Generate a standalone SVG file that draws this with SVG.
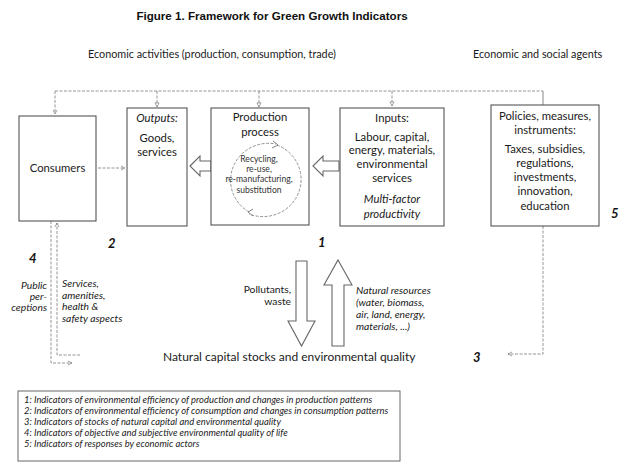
<svg xmlns="http://www.w3.org/2000/svg" width="620" height="464" viewBox="0 0 620 464">
<style>
  text { font-family: Lato, "Open Sans", "Liberation Sans", sans-serif; fill: #1a1a1a; }
  .title { font-family: "Liberation Sans", Arial, sans-serif; font-weight: bold; font-size: 11.6px; fill: #111; }
  .hdr { font-size: 10.8px; }
  .bx { font-size: 11.3px; text-anchor: middle; }
  .it { font-style: italic; }
  .sm { font-size: 10.3px; font-style: italic; }
  .cir { font-size: 8.6px; text-anchor: middle; fill: #333; }
  .num { font-size: 13px; font-weight: bold; font-style: italic; fill: #111; }
  .leg { font-size: 9.4px; font-style: italic; fill: #222; }
  .box { fill: #fff; stroke: #555; stroke-width: 1.1; }
  .blk { fill: #fff; stroke: #666; stroke-width: 1.1; }
  .dl { fill: none; stroke: #888; stroke-width: 0.9; stroke-dasharray: 3 1.5; }
  .sl { fill: none; stroke: #888; stroke-width: 1; }
</style>
<defs>
  <marker id="ah" viewBox="0 0 8 8" refX="7" refY="4" markerWidth="6" markerHeight="6" orient="auto">
    <path d="M1,1 L7,4 L1,7" fill="none" stroke="#777" stroke-width="1"/>
  </marker>
  <marker id="tri" viewBox="0 0 8 8" refX="7" refY="4" markerWidth="6" markerHeight="6" orient="auto">
    <path d="M1,1 L7,4 L1,7 Z" fill="#fff" stroke="#777" stroke-width="1"/>
  </marker>
</defs>

<text class="title" x="272" y="20" text-anchor="middle">Figure 1. Framework for Green Growth Indicators</text>
<text class="hdr" x="88" y="58">Economic activities (production, consumption, trade)</text>
<text class="hdr" x="473" y="58">Economic and social agents</text>

<g id="connectors">
  <path class="dl" d="M55,91 H543"/>
  <path class="sl" d="M543,91 V105"/>
  <path class="dl" d="M55,91 V114" marker-end="url(#ah)"/>
  <path class="dl" d="M157,91 V107" marker-end="url(#tri)"/>
  <path class="dl" d="M259,91 V107" marker-end="url(#tri)"/>
  <path class="dl" d="M392,91 V106" marker-end="url(#tri)"/>
  <path class="dl" d="M98,168 H125" marker-end="url(#ah)"/>
  <path class="dl" d="M51,221 V363 H72" marker-end="url(#ah)"/>
  <path class="dl" d="M80,355 H57 V223" marker-end="url(#ah)"/>
  <path class="dl" d="M543,226 V354 H508" marker-end="url(#ah)"/>
  <path class="blk" d="M190,166 L200,156 V161 H211 V171 H200 V176 Z"/>
  <path class="blk" d="M313,166 L323,156 V161 H339 V171 H323 V176 Z"/>
  <path class="blk" d="M296,261 H307 V321 H315 L301.5,346 L288,321 H296 Z"/>
  <path class="blk" d="M338,260 L352,285 H344 V346 H332 V285 H324 Z"/>
</g>

<g id="consumers">
  <rect class="box" x="19" y="116" width="77" height="105"/>
  <text class="bx" x="57.5" y="172">Consumers</text>
</g>

<g id="outputs">
  <rect class="box" x="127" y="108" width="60" height="118"/>
  <text class="bx it" x="157" y="122">Outputs:</text>
  <text class="bx" x="157" y="142">Goods,</text>
  <text class="bx" x="157" y="156">services</text>
</g>

<g id="production">
  <rect class="box" x="211" y="108" width="98" height="117"/>
  <text class="bx" x="260" y="121">Production</text>
  <text class="bx" x="260" y="136">process</text>
  <path class="dl" d="M277,145 A38,37 0 0 1 249,214"/>
  <path class="dl" d="M249,212 A38,37 0 0 1 276,144"/>
  <path d="M273,141 L278,145 L272,148" fill="none" stroke="#777" stroke-width="0.9"/>
  <path d="M253,209 L248,212 L253,216" fill="none" stroke="#777" stroke-width="0.9"/>
  <text class="cir" x="259" y="162">Recycling,</text>
  <text class="cir" x="259" y="172">re-use,</text>
  <text class="cir" x="259" y="182">re-manufacturing,</text>
  <text class="cir" x="259" y="193">substitution</text>
</g>

<g id="inputs">
  <rect class="box" x="340" y="108" width="104" height="118"/>
  <text class="bx" x="392" y="122">Inputs:</text>
  <text class="bx" x="392" y="141">Labour, capital,</text>
  <text class="bx" x="392" y="154">energy, materials,</text>
  <text class="bx" x="392" y="168">environmental</text>
  <text class="bx" x="392" y="182">services</text>
  <text class="bx it" x="392" y="203">Multi-factor</text>
  <text class="bx it" x="392" y="218">productivity</text>
</g>

<g id="policies">
  <rect class="box" x="491" y="105" width="108" height="121"/>
  <text class="bx" x="545" y="120">Policies, measures,</text>
  <text class="bx" x="545" y="134">instruments:</text>
  <text class="bx" x="545" y="153">Taxes, subsidies,</text>
  <text class="bx" x="545" y="167">regulations,</text>
  <text class="bx" x="545" y="181">investments,</text>
  <text class="bx" x="545" y="195">innovation,</text>
  <text class="bx" x="545" y="210">education</text>
</g>

<g id="labels">
  <text class="num" x="108" y="248">2</text>
  <text class="num" x="318" y="247">1</text>
  <text class="num" x="29" y="263">4</text>
  <text class="num" x="473" y="362">3</text>
  <text class="num" x="611" y="218">5</text>
  <text class="sm" x="47" y="289" text-anchor="end">Public</text>
  <text class="sm" x="47" y="300" text-anchor="end">per-</text>
  <text class="sm" x="47" y="311" text-anchor="end">ceptions</text>
  <text class="sm" x="62" y="287">Services,</text>
  <text class="sm" x="62" y="299">amenities,</text>
  <text class="sm" x="62" y="310">health &amp;</text>
  <text class="sm" x="62" y="322">safety aspects</text>
  <text class="sm" x="291" y="293" text-anchor="end" style="font-style:normal">Pollutants,</text>
  <text class="sm" x="291" y="305" text-anchor="end" style="font-style:normal">waste</text>
  <text class="sm" x="356" y="294">Natural resources</text>
  <text class="sm" x="356" y="306">(water, biomass,</text>
  <text class="sm" x="356" y="318">air, land, energy,</text>
  <text class="sm" x="356" y="330">materials, ...)</text>
  <text class="hdr" style="font-size:12px" x="163" y="361">Natural capital stocks  and environmental quality</text>
</g>

<g id="legend">
  <rect x="18" y="391" width="382" height="70" fill="#fff" stroke="#666" stroke-width="1"/>
  <text class="leg" x="24" y="403">1: Indicators of environmental efficiency of production and changes in production patterns</text>
  <text class="leg" x="24" y="414">2: Indicators of environmental efficiency of consumption and changes in consumption patterns</text>
  <text class="leg" x="24" y="425">3: Indicators of stocks of natural capital and environmental quality</text>
  <text class="leg" x="24" y="436">4: Indicators of objective and subjective environmental quality of life</text>
  <text class="leg" x="24" y="447">5: Indicators of responses by economic actors</text>
</g>
</svg>
